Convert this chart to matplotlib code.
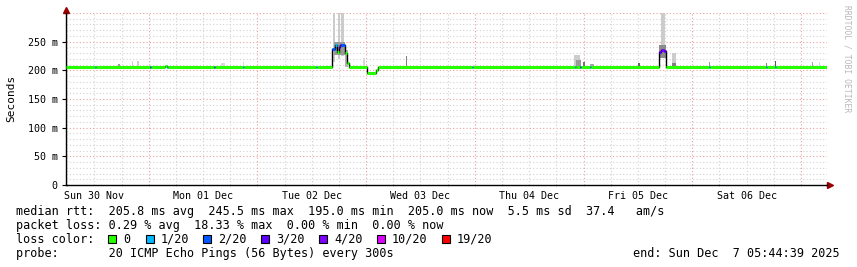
import datetime as dt
import matplotlib
matplotlib.use('Agg')
import matplotlib.pyplot as plt
import matplotlib.dates as mdates
from matplotlib.patches import Rectangle

plt.rcParams['font.family'] = 'DejaVu Sans Mono'

START = dt.datetime(2025, 11, 30, 5, 44, 39)
SPAN_H = 168

# median rtt as steps: break times (hours after start), value (ms) and loss class per step
med_t = [0, 6.40, 6.62, 18.55, 18.77, 21.86, 22.30, 22.52, 32.68, 32.90,
         39.08, 39.30, 55.20, 55.42, 58.73, 59.40, 59.84, 60.28, 60.50, 60.72,
         61.60, 62.04, 62.49, 66.46, 68.45, 68.89, 89.64, 89.86, 112.39, 112.61,
         113.49, 113.71, 115.70, 115.92, 130.93, 131.38, 132.04, 132.48, 141.97, 142.19,
         154.56, 154.78, 156.55, 156.77, 168.0]
med_v = [205.5, 205.5, 205.5, 205.5, 205.5, 208, 205.5, 205.5, 205.5, 205.5,
         205.5, 205.5, 205.5, 205.5, 238, 244, 232, 240, 245, 245,
         230, 212, 205.5, 195, 200, 205.5, 205.5, 205.5, 205.5, 205.5,
         205.5, 205.5, 205.5, 205.5, 232, 236, 233, 205.5, 205.5, 205.5,
         205.5, 205.5, 205.5, 205.5]
med_loss = [0, 1, 0, 2, 0, 0, 1, 0, 2, 0,
            1, 0, 1, 0, 2, 1, 0, 3, 3, 2,
            0, 0, 0, 0, 0, 0, 1, 0, 1, 0,
            2, 0, 1, 0, 3, 4, 3, 0, 1, 0,
            1, 0, 1, 0]

# smoke (ping spread) bars
smoke_t0 = [11.48, 14.57, 15.68, 34.22, 39.08, 58.95, 60.06, 60.72, 59.17, 61.60,
            65.58, 75.07, 85.00, 112.17, 112.61, 114.15, 115.70, 126.30, 131.38, 130.93,
            133.80, 133.80, 141.97, 154.56, 156.55, 164.72, 166.26]
smoke_t1 = [11.92, 14.79, 16.12, 35.11, 39.30, 59.40, 60.50, 61.38, 61.60, 62.26,
            66.02, 75.29, 85.23, 113.49, 113.71, 114.60, 116.58, 126.74, 132.26, 132.48,
            134.69, 134.69, 142.19, 154.78, 156.77, 164.94, 166.48]
smoke_lo = [203, 205, 205, 205, 205, 215, 220, 225, 226, 205,
            205, 205, 205, 205, 205, 205, 205, 205, 228, 222,
            205, 205, 205, 205, 205, 205, 205]
smoke_hi = [211, 217, 216, 212, 215, 300, 300, 300, 250, 236,
            222, 225, 208, 227, 218, 215, 211, 212, 300, 245,
            231, 213, 214, 213, 217, 214, 214]
smoke_gray = [0.6, 0.8, 0.8, 0.85, 0.85, 0.8, 0.8, 0.8, 0.6, 0.7,
              0.85, 0.5, 0.85, 0.8, 0.6, 0.45, 0.65, 0.4, 0.8, 0.55,
              0.8, 0.5, 0.6, 0.5, 0.35, 0.65, 0.85]

loss_labels = ['0', '1/20', '2/20', '3/20', '4/20', '10/20', '19/20']
loss_colors = ['#26ff00', '#00b8ff', '#0059ff', '#5e00ff', '#7e00ff', '#dd00ff', '#ff0000']

y_ticks = [0, 50, 100, 150, 200, 250]
y_tick_labels = ['0', '50 m', '100 m', '150 m', '200 m', '250 m']
day_labels = ['Sun 30 Nov', 'Mon 01 Dec', 'Tue 02 Dec', 'Wed 03 Dec',
              'Thu 04 Dec', 'Fri 05 Dec', 'Sat 06 Dec']

legend_lines = [
    'median rtt:  205.8 ms avg  245.5 ms max  195.0 ms min  205.0 ms now  5.5 ms sd  37.4   am/s',
    'packet loss: 0.29 % avg  18.33 % max  0.00 % min  0.00 % now',
    'loss color:',
    'probe:       20 ICMP Echo Pings (56 Bytes) every 300s',
]
end_text = 'end: Sun Dec  7 05:44:39 2025'


def tnum(h):
    return mdates.date2num(START + dt.timedelta(hours=h))


W, H = 857, 267
fig = plt.figure(figsize=(W / 100, H / 100), dpi=100)
ax = fig.add_axes([66 / W, (H - 185) / H, 761 / W, 172 / H])
ax.set_xlim(tnum(0), tnum(SPAN_H))
ax.set_ylim(0, 300)

grid_gray = '#d2d2d2'
grid_red = '#eaa0a0'
dots = (0, (1, 2))

# horizontal grid
for v in range(10, 301, 10):
    c = grid_red if v % 50 == 0 else grid_gray
    ax.axhline(v, color=c, lw=0.8, ls=dots, zorder=0)

# vertical grid, every 6 hours, red at midnight
first = START.replace(minute=0, second=0) + dt.timedelta(hours=1)
g = first
while g <= START + dt.timedelta(hours=SPAN_H):
    if g.hour % 6 == 0:
        c = grid_red if g.hour == 0 else grid_gray
        ax.axvline(mdates.date2num(g), color=c, lw=0.8, ls=dots, zorder=0)
    g += dt.timedelta(hours=1)

# smoke
for t0, t1, lo, hi, gr in zip(smoke_t0, smoke_t1, smoke_lo, smoke_hi, smoke_gray):
    ax.bar(tnum(t0), hi - lo, width=tnum(t1) - tnum(t0), bottom=lo, align='edge',
           color=str(gr), linewidth=0, zorder=1)

# median: black step line then coloured segments per loss
ax.step([tnum(t) for t in med_t], med_v + [med_v[-1]], where='post',
        color='black', lw=1.0, zorder=2)
for i in range(len(med_v)):
    ax.hlines(med_v[i], tnum(med_t[i]), tnum(med_t[i + 1]),
              color=loss_colors[med_loss[i]], lw=2.2, zorder=3)

# axes
for s in ['top', 'right']:
    ax.spines[s].set_visible(False)
ax.spines['left'].set_linewidth(1.0)
ax.spines['bottom'].set_linewidth(1.0)
ax.set_yticks(y_ticks)
ax.set_yticklabels(y_tick_labels)
ax.tick_params(axis='y', length=3, width=0.8, pad=3, labelsize=7.2)

noon = [START.replace(hour=12, minute=0, second=0) + dt.timedelta(days=d) for d in range(7)]
ax.set_xticks([mdates.date2num(n) for n in noon])
ax.set_xticklabels(day_labels)
ax.tick_params(axis='x', length=0, pad=4, labelsize=7.2)
ax.set_xticks([mdates.date2num(first + dt.timedelta(hours=k)) for k in range(0, 168)
               if (first + dt.timedelta(hours=k)).hour % 6 == 0], minor=True)
ax.tick_params(axis='x', which='minor', length=2, width=0.6, color='#b0b0b0', direction='inout')

arrow_c = '#990000'
ax.plot([0], [1.0 + 3 / 172], marker='^', ms=4, color=arrow_c, transform=ax.transAxes, clip_on=False)
ax.plot([1.0, 1.0 + 3 / 761], [0, 0], color='black', lw=1.0, transform=ax.transAxes, clip_on=False)
ax.plot([1.0 + 3 / 761], [0], marker='>', ms=4, color=arrow_c, transform=ax.transAxes, clip_on=False)

fig.text(11 / W, 1 - 98 / H, 'Seconds', rotation=90, ha='center', va='center', fontsize=8)
fig.text(847 / W, 1 - 5 / H, 'RRDTOOL / TOBI OETIKER', rotation=-90, ha='center', va='top',
         fontsize=5.8, color='#b8b8b8')

# legend text
baselines = [215, 229, 243, 257]
for line, yb in zip(legend_lines, baselines):
    fig.text(16 / W, 1 - yb / H, line, ha='left', va='baseline', fontsize=8.5)
fig.text(840 / W, 1 - 257 / H, end_text, ha='right', va='baseline', fontsize=8.5)

box_x = [108, 146, 203, 261, 319, 377, 442]
for bx, lab, col in zip(box_x, loss_labels, loss_colors):
    fig.patches.append(Rectangle((bx / W, 1 - 243 / H), 8 / W, 8 / H, transform=fig.transFigure,
                                 facecolor=col, edgecolor='black', lw=0.8))
    fig.text((bx + 15) / W, 1 - 243 / H, lab, ha='left', va='baseline', fontsize=8.5)

fig.savefig('out.png', dpi=100)
